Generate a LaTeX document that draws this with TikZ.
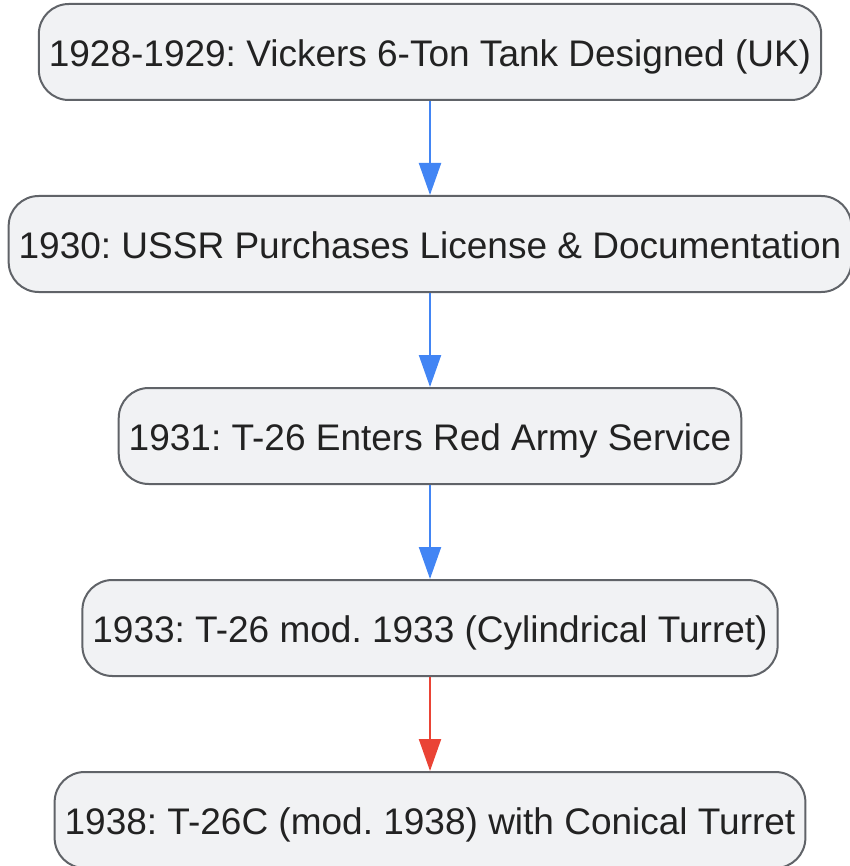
\documentclass[tikz,border=0pt]{standalone}
\usepackage{fontspec}
\setmainfont{Liberation Sans}
\usetikzlibrary{arrows.meta}
\definecolor{boxfill}{HTML}{F1F2F4}
\definecolor{boxline}{HTML}{606368}
\definecolor{textgray}{HTML}{222222}
\definecolor{flowblue}{HTML}{4285F4}
\definecolor{flowred}{HTML}{EA4335}
\frenchspacing
\begin{document}
\begin{tikzpicture}[
        x=1pt, y=1pt,
        event/.style={rectangle,rounded corners=30pt,draw=boxline,fill=boxfill,
            line width=2pt,minimum height=96pt,inner xsep=10pt,
            text height=30pt,text depth=0.5pt,
            text=textgray,font=\fontsize{37}{42}\selectfont},
        flow/.style={line width=2.2pt,draw=#1,
            -{Triangle[length=32pt,width=22pt,fill=#1]}},
        flow/.default=flowblue
    ]
        \useasboundingbox (0, 0) rectangle (849, -866);
        \node[event] (vickers) at (430, -52) {1928-1929: Vickers 6-Ton Tank Designed (UK)};
        \node[event] (license) at (430, -244) {1930: USSR Purchases License \& Documentation};
        \node[event] (service) at (430, -436) {1931: T-26 Enters Red Army Service};
        \node[event] (cylindrical) at (430, -628) {1933: T-26 mod. 1933 (Cylindrical Turret)};
        \node[event] (conical) at (430, -820) {1938: T-26C (mod. 1938) with Conical Turret};
        \draw[flow] (vickers) -- (license);
        \draw[flow] (license) -- (service);
        \draw[flow] (service) -- (cylindrical);
        \draw[flow=flowred] (cylindrical) -- (conical);
    \end{tikzpicture}
\end{document}
